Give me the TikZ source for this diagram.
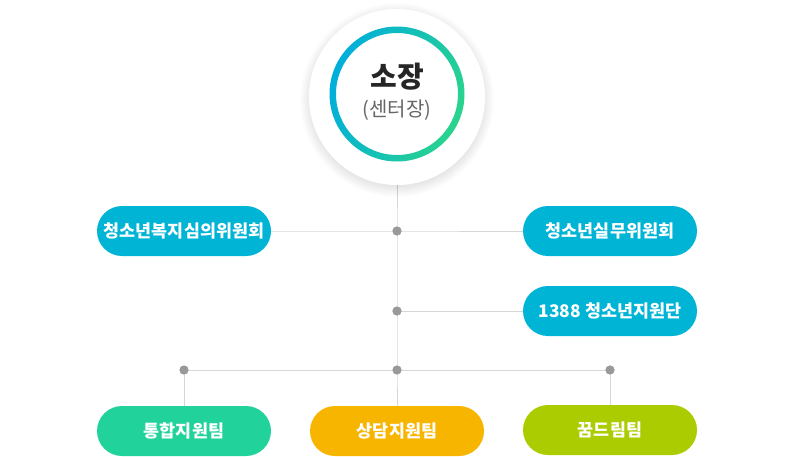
\documentclass[tikz,border=0pt]{standalone}
\usepackage{fontspec}
\newfontfamily\kr{Noto Sans CJK KR}
\definecolor{lineg}{HTML}{D6D6D6}
\definecolor{dotg}{HTML}{999999}
\definecolor{cblue}{HTML}{00B4D6}
\definecolor{cgreen}{HTML}{22D29B}
\definecolor{cyellow}{HTML}{F8B500}
\definecolor{clime}{HTML}{AACC00}
\definecolor{ringa}{HTML}{00AEDC}
\definecolor{ringb}{HTML}{2AD48C}
\definecolor{txtg}{HTML}{666666}
\tikzset{
  pill/.style={rounded corners=25pt, minimum width=174pt, minimum height=50pt, inner sep=0pt,
    text=white, font=\kr\bfseries\fontsize{17.4}{20}\selectfont},
  conn/.style={draw=lineg, line width=1pt},
  jdot/.style={circle, fill=dotg, inner sep=0pt, minimum size=9pt},
}
\begin{document}
\begin{tikzpicture}[x=1pt,y=-1pt]
\useasboundingbox (0,0) rectangle (798,456);
\coordinate (c) at (397,94);
% junction dots (positions)
\node[jdot] (d1) at (397,231) {};
\node[jdot] (d2) at (397,311) {};
\node[jdot] (d3) at (397,370) {};
\node[jdot] (dl) at (184,370) {};
\node[jdot] (dr) at (610,370) {};
% boss circle placeholder
\node[circle, minimum size=176pt, inner sep=0pt] (boss) at (397,97) {};
% pill positions (invisible, for anchors)
\path (184,231) node[pill] (n1) {\phantom{x}};
\path (610,231) node[pill] (n2) {\phantom{x}};
\path (610,311) node[pill] (n3) {\phantom{x}};
\path (184,431) node[pill] (n4) {\phantom{x}};
\path (397,431) node[pill] (n5) {\phantom{x}};
\path (610,430) node[pill] (n6) {\phantom{x}};
% connectors
\path[conn] (boss.south) -- (d1.center) -- (d2.center) -- (d3.center) -- (n5.north);
\path[conn] (n1.east) -- (d1.center) -- (n2.west);
\path[conn] (d2.center) -- (n3.west);
\path[conn] (dl.center) -- (dr.center);
\path[conn] (dl.center) -- (n4.north);
\path[conn] (dr.center) -- (n6.north);
\foreach \d in {d1,d2,d3,dl,dr} \fill[dotg] (\d) circle (4.5);
% soft shadow of boss circle
\foreach \r in {0,1,...,11} {
  \fill[black, opacity=0.007] (397,100) circle (87+\r*0.9);
}
\fill[white] (boss.center) circle (88);
% gradient ring
\shade[even odd rule, left color=ringa, right color=ringb, shading angle=70]
  (c) circle (67.5) (c) circle (61);
\node[font=\kr\bfseries\fontsize{29}{33}\selectfont, text=black!85] (t1) at (397,77) {소장};
\node[font=\kr\fontsize{20}{24}\selectfont, text=txtg] (t2) at (397,110) {(센터장)};
% pills
\node[pill, fill=cblue] at (n1) {청소년복지심의위원회};
\node[pill, fill=cblue] at (n2) {청소년실무위원회};
\node[pill, fill=cblue] at (n3) {1388 청소년지원단};
\node[pill, fill=cgreen] at (n4) {통합지원팀};
\node[pill, fill=cyellow] at (n5) {상담지원팀};
\node[pill, fill=clime] at (n6) {꿈드림팀};
\end{tikzpicture}
\end{document}
